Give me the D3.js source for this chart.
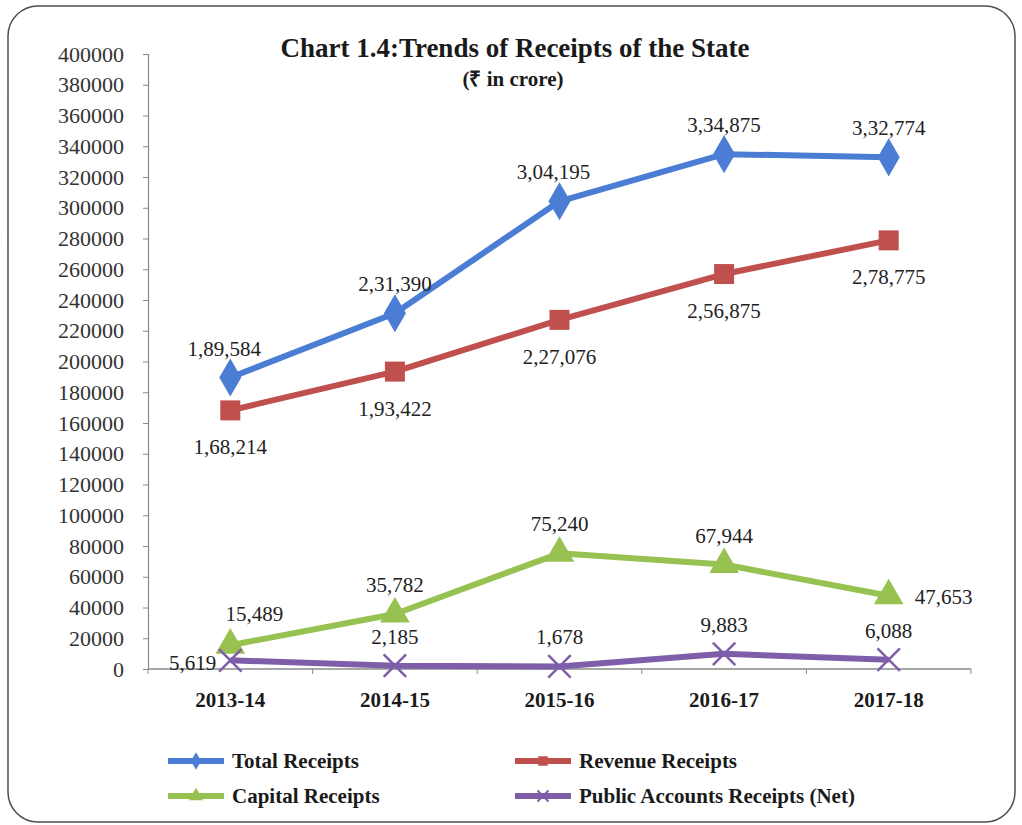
<!DOCTYPE html>
<html>
<head>
<meta charset="utf-8">
<script src="https://cdn.jsdelivr.net/npm/d3@7"></script>
<style>
  body { margin: 0; background: #fff; }
  svg text { font-family: "Times New Roman", "Liberation Serif", serif; }
</style>
</head>
<body>
<svg id="chart" width="1022" height="825"></svg>
<script>
"use strict";

// data
const years = ["2013-14", "2014-15", "2015-16", "2016-17", "2017-18"];
const totalReceipts = [189584, 231390, 304195, 334875, 332774];
const revenueReceipts = [168214, 193422, 227076, 256875, 278775];
const capitalReceipts = [15489, 35782, 75240, 67944, 47653];
const publicAccounts = [5619, 2185, 1678, 9883, 6088];
const yTicks = d3.range(0, 400001, 20000);

const seriesNames = ["Total Receipts", "Revenue Receipts", "Capital Receipts", "Public Accounts Receipts (Net)"];
const seriesValues = [totalReceipts, revenueReceipts, capitalReceipts, publicAccounts];

// where each value label sits relative to its point
const labelPos = [
  ["aboveLeft", "above", "aboveLeft", "above", "above"],
  ["below", "below", "below", "below", "below"],
  ["aboveRight", "above", "above", "above", "right"],
  ["left", "above", "above", "above", "above"]
];

const colors = ["#4a7dd3", "#c0504d", "#97c252", "#7e5ea8"];
const symbols = [d3.symbolDiamond, d3.symbolSquare, d3.symbolTriangle, d3.symbolX];
const SERIF = "'Times New Roman', 'Liberation Serif', serif";

const svg = d3.select("#chart");
const margin = { left: 148, right: 971, top: 54, bottom: 669 };

// rounded frame
svg.append("rect")
  .attr("x", 8).attr("y", 6)
  .attr("width", 1007).attr("height", 816)
  .attr("rx", 30).attr("ry", 30)
  .attr("fill", "#fff")
  .attr("stroke", "#4d4d4d")
  .attr("stroke-width", 1.5);

const x = d3.scaleBand().domain(years).range([margin.left, margin.right]);
const y = d3.scaleLinear().domain([0, 400000]).range([margin.bottom, margin.top]);
const cx = d => x(d) + x.bandwidth() / 2;

// y axis
const yAxis = svg.append("g")
  .attr("transform", `translate(${margin.left},0)`)
  .attr("font-family", SERIF)
  .call(d3.axisLeft(y).tickValues(yTicks).tickFormat(d3.format("d")).tickSize(5).tickPadding(19));
yAxis.attr("font-family", SERIF);
yAxis.select(".domain").attr("stroke", "#8a8a8a").attr("stroke-width", 1.2);
yAxis.selectAll(".tick line").attr("stroke", "#8a8a8a");
yAxis.selectAll("text")
  .attr("font-size", 22)
  .attr("fill", "#333")
  .style("font-family", SERIF);

// x axis: ticks on band edges
const xAxis = svg.append("g")
  .attr("transform", `translate(0,${margin.bottom})`);
xAxis.append("line")
  .attr("x1", margin.left).attr("x2", margin.right)
  .attr("stroke", "#8a8a8a").attr("stroke-width", 1.5);
xAxis.selectAll("line.edge")
  .data(years.concat(["end"]))
  .join("line")
  .attr("class", "edge")
  .attr("x1", (d, i) => i < years.length ? x(d) : margin.right)
  .attr("x2", (d, i) => i < years.length ? x(d) : margin.right)
  .attr("y1", 0).attr("y2", 5)
  .attr("stroke", "#8a8a8a");
xAxis.selectAll("text")
  .data(years)
  .join("text")
  .attr("x", d => cx(d))
  .attr("y", 38)
  .attr("text-anchor", "middle")
  .attr("font-size", 21)
  .attr("font-weight", "bold")
  .attr("fill", "#1a1a1a")
  .style("font-family", SERIF)
  .text(d => d);

// title
svg.append("text")
  .attr("x", 515).attr("y", 57)
  .attr("text-anchor", "middle")
  .attr("font-size", 27)
  .attr("font-weight", "bold")
  .attr("fill", "#1a1a1a")
  .style("font-family", SERIF)
  .text("Chart 1.4:Trends of Receipts of the State");
svg.append("text")
  .attr("x", 513).attr("y", 86)
  .attr("text-anchor", "middle")
  .attr("font-size", 21)
  .attr("font-weight", "bold")
  .attr("fill", "#1a1a1a")
  .style("font-family", SERIF)
  .text("(₹ in crore)");

const line = d3.line().x((d, i) => cx(years[i])).y(d => y(d));
const fmt = v => v.toLocaleString("en-IN");

const offsets = {
  above: [0, -22, "middle"],
  aboveLeft: [-6, -22, "middle"],
  aboveRight: [24, -24, "middle"],
  below: [0, 44, "middle"],
  left: [-14, 10, "end"],
  right: [26, 8, "start"]
};

seriesValues.forEach((vals, s) => {
  svg.append("path")
    .datum(vals)
    .attr("d", line)
    .attr("fill", "none")
    .attr("stroke", colors[s])
    .attr("stroke-width", 6)
    .attr("stroke-linejoin", "round");

  svg.selectAll(null)
    .data(vals)
    .join("path")
    .attr("transform", (d, i) => `translate(${cx(years[i])},${y(d)})`)
    .attr("d", d3.symbol().type(symbols[s]).size([420, 400, 380, 330][s]))
    .attr("fill", s === 3 ? "none" : colors[s])
    .attr("stroke", s === 3 ? colors[s] : "none")
    .attr("stroke-width", 2.5);

  svg.selectAll(null)
    .data(vals)
    .join("text")
    .attr("x", (d, i) => cx(years[i]) + offsets[labelPos[s][i]][0])
    .attr("y", (d, i) => y(d) + offsets[labelPos[s][i]][1])
    .attr("text-anchor", (d, i) => offsets[labelPos[s][i]][2])
    .attr("font-size", 21)
    .attr("fill", "#222")
    .style("font-family", SERIF)
    .text(d => fmt(d));
});

// legend
const legendX = [168, 515];
const legendY = [761, 796];
seriesNames.forEach((name, s) => {
  const lx = legendX[s % 2];
  const ly = legendY[Math.floor(s / 2)];
  const g = svg.append("g");
  g.append("line")
    .attr("x1", lx).attr("x2", lx + 56)
    .attr("y1", ly).attr("y2", ly)
    .attr("stroke", colors[s]).attr("stroke-width", 6);
  g.append("path")
    .attr("transform", `translate(${lx + 28},${ly})`)
    .attr("d", d3.symbol().type(symbols[s]).size(s === 3 ? 80 : 90))
    .attr("fill", s === 3 ? "none" : colors[s])
    .attr("stroke", s === 3 ? colors[s] : "none")
    .attr("stroke-width", 2);
  g.append("text")
    .attr("x", lx + 64).attr("y", ly + 7)
    .attr("font-size", 21)
    .attr("font-weight", "bold")
    .attr("fill", "#1a1a1a")
    .style("font-family", SERIF)
    .text(name);
});
</script>
</body>
</html>
